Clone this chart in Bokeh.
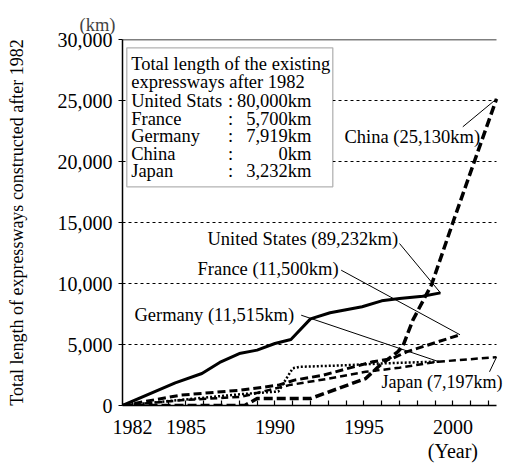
from bokeh.plotting import figure
from bokeh.models import FixedTicker, NumeralTickFormatter, BoxAnnotation, Label, Range1d
from bokeh.embed import file_html
from bokeh.resources import INLINE

FONT = "Liberation Serif"

# ---------------- data (km constructed after 1982) ----------------
us_years = [1981.44, 1984.4, 1985.9, 1986.9, 1988.0, 1989.0, 1990.0, 1990.9, 1992.0, 1993.1, 1994.9, 1996.0, 1997.0, 1998.3, 1999.3]
us_km = [0, 1860, 2620, 3530, 4260, 4540, 5080, 5410, 7100, 7600, 8090, 8580, 8770, 8960, 9232]

china_years = [1981.44, 1988.3, 1989.0, 1992.0, 1995.1, 1995.9, 1996.9, 1997.2, 1997.75, 1998.8, 1999.6, 2000.0, 2001.2, 2002.45]
china_km = [0, 0, 570, 570, 2210, 3300, 4400, 4900, 7000, 9900, 13300, 15000, 19980, 25130]

france_years = [1981.44, 1984.7, 1988.1, 1990.2, 1991.1, 1992.7, 1994.0, 1995.5, 1996.6, 1997.4, 2000.4]
france_km = [0, 850, 1260, 1670, 2080, 2480, 3000, 3580, 3850, 4400, 5800]

germany_years = [1981.44, 1988.1, 1990.2, 1991.0, 1991.4, 1994.0, 1995.9, 1997.0, 1999.2]
germany_km = [0, 930, 1150, 3050, 3170, 3300, 3440, 3500, 3596]

japan_years = [1981.44, 1984.7, 1988.1, 1990.8, 1993.0, 1995.1, 1997.0, 1999.1, 2002.45]
japan_km = [0, 430, 710, 1670, 2200, 2760, 3100, 3580, 3965]

tick_years = list(range(1982, 2003))
labelled_years = [1982, 1985, 1990, 1995, 2000]
y_ticks = [0, 5000, 10000, 15000, 20000, 25000, 30000]
grid_ticks = [5000, 10000, 15000, 20000, 25000]

legend_names = ["United Stats", "France", "Germany", "China", "Japan"]
legend_totals = [80000, 5700, 7919, 0, 3232]

series_names = ["China", "United States", "France", "Germany", "Japan"]
series_totals = ["25,130", "89,232", "11,500", "11,515", "7,197"]

# ---------------- helpers: reference pixel -> data coords for annotations ----------------
def px_x(px):
    return 1982 + (px - 133) / 17.8

def px_y(py):
    return (407 - py) * 30000 / 366

X_START = px_x(123)
X_AXIS_END = px_x(497)

p = figure(width=505, height=464, output_backend="svg", toolbar_location=None,
           x_range=Range1d(X_START, px_x(506)), y_range=Range1d(0, 30000),
           min_border_left=122, min_border_right=0, min_border_top=39, min_border_bottom=59)
p.outline_line_color = None
p.background_fill_color = "white"
p.border_fill_color = "white"

# unit label (km) as the figure title, pushed to the left of the frame
p.title.text = "(km)"
p.title.text_font = FONT
p.title.text_font_size = "18.5px"
p.title.text_font_style = "normal"
p.title.align = "left"
p.title.offset = -43
p.title.standoff = 9

# x axis
p.xaxis.ticker = FixedTicker(ticks=tick_years)
p.xaxis.bounds = (X_START, X_AXIS_END)
overrides = {y: (str(y) if y in labelled_years else "") for y in tick_years}
overrides[2000] = "2000\n(Year)"
p.xaxis.major_label_overrides = overrides
p.xaxis.major_label_text_line_height = 1.1
p.xaxis.major_tick_in = 5
p.xaxis.major_tick_out = 0
p.xaxis.minor_tick_line_color = None
p.xaxis.axis_line_width = 1.5
p.xaxis.major_tick_line_width = 1.2
p.xaxis.major_label_text_font = FONT
p.xaxis.major_label_text_font_size = "20px"
p.xaxis.major_label_text_color = "black"
p.xaxis.major_label_standoff = 10

p.yaxis.ticker = FixedTicker(ticks=y_ticks)
p.yaxis.formatter = NumeralTickFormatter(format="0,0")
p.yaxis.major_tick_in = 0
p.yaxis.major_tick_out = 4
p.yaxis.minor_tick_line_color = None
p.yaxis.axis_line_width = 1.5
p.yaxis.major_tick_line_width = 1.2
p.yaxis.major_label_text_font = FONT
p.yaxis.major_label_text_font_size = "20px"
p.yaxis.major_label_text_color = "black"
p.yaxis.major_label_standoff = 6
p.yaxis.axis_label = "Total length of expressways constructed after 1982"
p.yaxis.axis_label_text_font = FONT
p.yaxis.axis_label_text_font_size = "18px"
p.yaxis.axis_label_text_font_style = "normal"
p.yaxis.axis_label_text_color = "black"
p.yaxis.axis_label_standoff = 28

p.xgrid.visible = False
p.ygrid.visible = False

# dashed horizontal gridlines and solid top line, stopping at the axis end
p.segment(x0=[X_START] * len(grid_ticks), y0=grid_ticks, x1=[X_AXIS_END] * len(grid_ticks), y1=grid_ticks,
          line_color="black", line_width=1, line_dash="3 3")
p.segment(x0=[X_START], y0=[y_ticks[-1]], x1=[X_AXIS_END], y1=[y_ticks[-1]], line_color="black", line_width=1.5)

# series
p.line(china_years, china_km, line_color="black", line_width=3.5, line_dash="9 4")
p.line(france_years, france_km, line_color="black", line_width=3, line_dash="8 4")
p.line(japan_years, japan_km, line_color="black", line_width=2.5, line_dash="7 4")
p.line(germany_years, germany_km, line_color="black", line_width=2.5, line_dash="2 2")
p.line(us_years, us_km, line_color="black", line_width=3)

# legend-like box
p.add_layout(BoxAnnotation(left=px_x(127.3), right=px_x(333.3), top=px_y(49.3), bottom=px_y(188.3),
                           fill_color="white", fill_alpha=1, line_color="black", line_width=1.3))

def add_text(px, py, txt, align="left", size="18.5px"):
    p.add_layout(Label(x=px_x(px), y=px_y(py), text=txt, text_font=FONT, text_font_size=size,
                       text_color="black", text_align=align, text_baseline="middle"))

add_text(131.7, 65, "Total length of the existing")
add_text(131.7, 83, "expressways after 1982")
row_y = [102, 120, 137.5, 155, 172.5]
for name, tot, yy in zip(legend_names, legend_totals, row_y):
    add_text(131.7, yy, name)
    add_text(231, yy, ":", align="center")
    add_text(312, yy, f"{tot:,}km", align="right")

# series labels with leader lines
label_pos = [(345, 138), (208, 240), (198, 270), (135, 316.7), (382, 383.3)]
leader_start = [(463.3, 128.3), (400, 245), (341.7, 271.7), (301.7, 316.7), (490, 373.3)]
ends = [(china_years[-1], china_km[-1]), (us_years[-1], us_km[-1]), (france_years[-1], france_km[-1]),
        (germany_years[-1], germany_km[-1]), (japan_years[-1], japan_km[-1])]
for name, tot, (lx, ly) in zip(series_names, series_totals, label_pos):
    add_text(lx, ly, f"{name} ({tot}km)", size=("18px" if name == "Japan" else "18.5px"))
p.segment(x0=[px_x(s[0]) for s in leader_start], y0=[px_y(s[1]) for s in leader_start],
          x1=[e[0] for e in ends], y1=[e[1] for e in ends], line_color="black", line_width=1)

open("out.html", "w").write(file_html(p, INLINE))
